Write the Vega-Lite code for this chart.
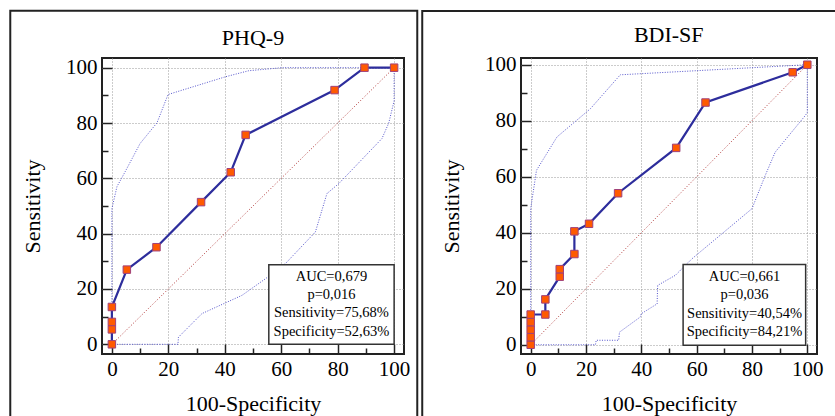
{
  "$schema": "https://vega.github.io/schema/vega-lite/v6.json",
  "padding": {"left": 8, "top": 8, "right": 0, "bottom": 0},
  "background": "white",
  "columns": 2,
  "align": "none",
  "spacing": 0,
  "datasets": {
    "curves": [
      {"p": "PHQ-9", "s": "ref", "i": 0, "x": 0, "y": 0},
      {"p": "PHQ-9", "s": "ref", "i": 1, "x": 100, "y": 100},
      {"p": "PHQ-9", "s": "roc", "i": 0, "x": 0, "y": 0},
      {"p": "PHQ-9", "s": "roc", "i": 1, "x": 0, "y": 5.4},
      {"p": "PHQ-9", "s": "roc", "i": 2, "x": 0, "y": 8.1},
      {"p": "PHQ-9", "s": "roc", "i": 3, "x": 0, "y": 13.5},
      {"p": "PHQ-9", "s": "roc", "i": 4, "x": 5.3, "y": 27.0},
      {"p": "PHQ-9", "s": "roc", "i": 5, "x": 15.8, "y": 35.1},
      {"p": "PHQ-9", "s": "roc", "i": 6, "x": 31.6, "y": 51.4},
      {"p": "PHQ-9", "s": "roc", "i": 7, "x": 42.1, "y": 62.2},
      {"p": "PHQ-9", "s": "roc", "i": 8, "x": 47.4, "y": 75.7},
      {"p": "PHQ-9", "s": "roc", "i": 9, "x": 78.9, "y": 91.9},
      {"p": "PHQ-9", "s": "roc", "i": 10, "x": 89.5, "y": 100},
      {"p": "PHQ-9", "s": "roc", "i": 11, "x": 100, "y": 100},
      {"p": "PHQ-9", "s": "upper", "i": 0, "x": 0, "y": 0},
      {"p": "PHQ-9", "s": "upper", "i": 1, "x": 0, "y": 49},
      {"p": "PHQ-9", "s": "upper", "i": 2, "x": 1.8, "y": 57},
      {"p": "PHQ-9", "s": "upper", "i": 3, "x": 4.7, "y": 62.4},
      {"p": "PHQ-9", "s": "upper", "i": 4, "x": 10, "y": 72.6},
      {"p": "PHQ-9", "s": "upper", "i": 5, "x": 16, "y": 80.1},
      {"p": "PHQ-9", "s": "upper", "i": 6, "x": 19.9, "y": 90.3},
      {"p": "PHQ-9", "s": "upper", "i": 7, "x": 40.2, "y": 96.7},
      {"p": "PHQ-9", "s": "upper", "i": 8, "x": 48.5, "y": 98.9},
      {"p": "PHQ-9", "s": "upper", "i": 9, "x": 60.3, "y": 100},
      {"p": "PHQ-9", "s": "upper", "i": 10, "x": 100, "y": 100},
      {"p": "PHQ-9", "s": "lower", "i": 0, "x": 0, "y": 0},
      {"p": "PHQ-9", "s": "lower", "i": 1, "x": 23.4, "y": 0},
      {"p": "PHQ-9", "s": "lower", "i": 2, "x": 23.6, "y": 2.6},
      {"p": "PHQ-9", "s": "lower", "i": 3, "x": 31.9, "y": 11.1},
      {"p": "PHQ-9", "s": "lower", "i": 4, "x": 46.1, "y": 17.7},
      {"p": "PHQ-9", "s": "lower", "i": 5, "x": 54.4, "y": 23.7},
      {"p": "PHQ-9", "s": "lower", "i": 6, "x": 61.5, "y": 29.2},
      {"p": "PHQ-9", "s": "lower", "i": 7, "x": 72.1, "y": 40.6},
      {"p": "PHQ-9", "s": "lower", "i": 8, "x": 76.2, "y": 54.5},
      {"p": "PHQ-9", "s": "lower", "i": 9, "x": 80.4, "y": 58.1},
      {"p": "PHQ-9", "s": "lower", "i": 10, "x": 95.7, "y": 74.4},
      {"p": "PHQ-9", "s": "lower", "i": 11, "x": 98.1, "y": 80},
      {"p": "PHQ-9", "s": "lower", "i": 12, "x": 100, "y": 88},
      {"p": "PHQ-9", "s": "lower", "i": 13, "x": 100, "y": 100},
      {"p": "BDI-SF", "s": "ref", "i": 0, "x": 0, "y": 0},
      {"p": "BDI-SF", "s": "ref", "i": 1, "x": 100, "y": 100},
      {"p": "BDI-SF", "s": "roc", "i": 0, "x": 0, "y": 0},
      {"p": "BDI-SF", "s": "roc", "i": 1, "x": 0, "y": 2.7},
      {"p": "BDI-SF", "s": "roc", "i": 2, "x": 0, "y": 5.4},
      {"p": "BDI-SF", "s": "roc", "i": 3, "x": 0, "y": 8.1},
      {"p": "BDI-SF", "s": "roc", "i": 4, "x": 0, "y": 10.8},
      {"p": "BDI-SF", "s": "roc", "i": 5, "x": 5.3, "y": 10.8},
      {"p": "BDI-SF", "s": "roc", "i": 6, "x": 5.3, "y": 16.2},
      {"p": "BDI-SF", "s": "roc", "i": 7, "x": 10.5, "y": 24.3},
      {"p": "BDI-SF", "s": "roc", "i": 8, "x": 10.5, "y": 27.0},
      {"p": "BDI-SF", "s": "roc", "i": 9, "x": 15.8, "y": 32.4},
      {"p": "BDI-SF", "s": "roc", "i": 10, "x": 15.8, "y": 40.5},
      {"p": "BDI-SF", "s": "roc", "i": 11, "x": 21.1, "y": 43.2},
      {"p": "BDI-SF", "s": "roc", "i": 12, "x": 31.6, "y": 54.1},
      {"p": "BDI-SF", "s": "roc", "i": 13, "x": 52.6, "y": 70.3},
      {"p": "BDI-SF", "s": "roc", "i": 14, "x": 63.2, "y": 86.5},
      {"p": "BDI-SF", "s": "roc", "i": 15, "x": 94.7, "y": 97.3},
      {"p": "BDI-SF", "s": "roc", "i": 16, "x": 100, "y": 100},
      {"p": "BDI-SF", "s": "upper", "i": 0, "x": 0, "y": 0},
      {"p": "BDI-SF", "s": "upper", "i": 1, "x": 0, "y": 48.6},
      {"p": "BDI-SF", "s": "upper", "i": 2, "x": 2.1, "y": 62.3},
      {"p": "BDI-SF", "s": "upper", "i": 3, "x": 9.5, "y": 74.2},
      {"p": "BDI-SF", "s": "upper", "i": 4, "x": 21.6, "y": 84.3},
      {"p": "BDI-SF", "s": "upper", "i": 5, "x": 32.4, "y": 96.4},
      {"p": "BDI-SF", "s": "upper", "i": 6, "x": 100, "y": 100},
      {"p": "BDI-SF", "s": "lower", "i": 0, "x": 0, "y": 0},
      {"p": "BDI-SF", "s": "lower", "i": 1, "x": 23.4, "y": 0},
      {"p": "BDI-SF", "s": "lower", "i": 2, "x": 23.7, "y": 1.6},
      {"p": "BDI-SF", "s": "lower", "i": 3, "x": 31.8, "y": 1.6},
      {"p": "BDI-SF", "s": "lower", "i": 4, "x": 32.1, "y": 4.5},
      {"p": "BDI-SF", "s": "lower", "i": 5, "x": 39.6, "y": 9.9},
      {"p": "BDI-SF", "s": "lower", "i": 6, "x": 40.0, "y": 11.1},
      {"p": "BDI-SF", "s": "lower", "i": 7, "x": 45.7, "y": 14.6},
      {"p": "BDI-SF", "s": "lower", "i": 8, "x": 45.9, "y": 21.2},
      {"p": "BDI-SF", "s": "lower", "i": 9, "x": 52.3, "y": 24.8},
      {"p": "BDI-SF", "s": "lower", "i": 10, "x": 58.3, "y": 30.7},
      {"p": "BDI-SF", "s": "lower", "i": 11, "x": 80.0, "y": 48.6},
      {"p": "BDI-SF", "s": "lower", "i": 12, "x": 84.8, "y": 60.5},
      {"p": "BDI-SF", "s": "lower", "i": 13, "x": 88.4, "y": 68.8},
      {"p": "BDI-SF", "s": "lower", "i": 14, "x": 99.3, "y": 81.9},
      {"p": "BDI-SF", "s": "lower", "i": 15, "x": 100, "y": 83},
      {"p": "BDI-SF", "s": "lower", "i": 16, "x": 100, "y": 100}
    ],
    "notes": [
      {"p": "PHQ-9", "title": "PHQ-9", "t": "AUC=0,679\np=0,016\nSensitivity=75,68%\nSpecificity=52,63%"},
      {"p": "BDI-SF", "title": "BDI-SF", "t": "AUC=0,661\np=0,036\nSensitivity=40,54%\nSpecificity=84,21%"}
    ]
  },
  "concat": [
    {
      "width": 302,
      "height": 296,
      "layer": [
        {
          "data": {"values": [{}]},
          "mark": {"type": "rect", "filled": false, "stroke": "#222", "strokeWidth": 2, "clip": false},
          "encoding": {
            "x": {"datum": -36.0, "type": "quantitative", "scale": {"domain": [-3.5, 103.5], "nice": false, "zero": false}, "title": "100-Specificity"},
            "x2": {"datum": 108.2},
            "y": {"datum": 120.6, "type": "quantitative", "scale": {"domain": [-3.5, 103.5], "nice": false, "zero": false}, "title": "Sensitivity"},
            "y2": {"datum": -35}
          }
        },
        {
          "data": {"name": "notes"},
          "transform": [{"filter": "datum.p === 'PHQ-9'"}],
          "mark": {"type": "text", "font": "Liberation Serif", "fontSize": 22, "align": "center", "baseline": "alphabetic", "color": "#000", "clip": false},
          "encoding": {"x": {"datum": 50, "type": "quantitative"}, "y": {"datum": 108.2, "type": "quantitative"}, "text": {"field": "title"}}
        },
        {
          "data": {"name": "curves"},
          "transform": [{"filter": "datum.p === 'PHQ-9' && datum.s === 'ref'"}],
          "mark": {"type": "line", "stroke": "#b03535", "strokeWidth": 1, "strokeDash": [1, 2]},
          "encoding": {"x": {"field": "x", "type": "quantitative", "title": "100-Specificity"}, "y": {"field": "y", "type": "quantitative", "title": "Sensitivity"}, "order": {"field": "i"}}
        },
        {
          "data": {"name": "curves"},
          "transform": [{"filter": "datum.p === 'PHQ-9' && (datum.s === 'upper' || datum.s === 'lower')"}],
          "mark": {"type": "line", "stroke": "#5555cc", "strokeWidth": 1, "strokeDash": [1, 1.5]},
          "encoding": {"x": {"field": "x", "type": "quantitative", "title": "100-Specificity"}, "y": {"field": "y", "type": "quantitative", "title": "Sensitivity"}, "detail": {"field": "s"}, "order": {"field": "i"}}
        },
        {
          "data": {"name": "curves"},
          "transform": [{"filter": "datum.p === 'PHQ-9' && datum.s === 'roc'"}],
          "mark": {"type": "line", "stroke": "#2d2d9c", "strokeWidth": 2.2},
          "encoding": {"x": {"field": "x", "type": "quantitative", "title": "100-Specificity"}, "y": {"field": "y", "type": "quantitative", "title": "Sensitivity"}, "order": {"field": "i"}}
        },
        {
          "data": {"name": "curves"},
          "transform": [{"filter": "datum.p === 'PHQ-9' && datum.s === 'roc'"}],
          "mark": {"type": "square", "size": 56, "filled": true, "fill": "#ff5a00", "stroke": "#a0407a", "strokeWidth": 1, "opacity": 1},
          "encoding": {"x": {"field": "x", "type": "quantitative", "title": "100-Specificity"}, "y": {"field": "y", "type": "quantitative", "title": "Sensitivity"}}
        },
        {
          "data": {"values": [{}]},
          "mark": {"type": "rect", "fill": "white", "stroke": "#333", "strokeWidth": 1.5},
          "encoding": {"x": {"datum": 55.6, "type": "quantitative"}, "x2": {"datum": 100}, "y": {"datum": 28.8, "type": "quantitative"}, "y2": {"datum": 0}}
        },
        {
          "data": {"name": "notes"},
          "transform": [{"filter": "datum.p === 'PHQ-9'"}],
          "mark": {"type": "text", "lineBreak": "\n", "lineHeight": 18.3, "font": "Liberation Serif", "fontSize": 14.5, "align": "center", "baseline": "middle", "color": "#000"},
          "encoding": {"x": {"datum": 77.8, "type": "quantitative"}, "y": {"datum": 24.4, "type": "quantitative"}, "text": {"field": "t"}}
        }
      ]
    },
    {
      "width": 296,
      "height": 296,
      "layer": [
        {
          "data": {"values": [{}]},
          "mark": {"type": "rect", "filled": false, "stroke": "#222", "strokeWidth": 2, "clip": false},
          "encoding": {
            "x": {"datum": -39.2, "type": "quantitative", "scale": {"domain": [-3.5, 103.5], "nice": false, "zero": false}, "title": "100-Specificity"},
            "x2": {"datum": 112},
            "y": {"datum": 119.2, "type": "quantitative", "scale": {"domain": [-3.3, 102.4], "nice": false, "zero": false}, "title": "Sensitivity"},
            "y2": {"datum": -35}
          }
        },
        {
          "data": {"name": "notes"},
          "transform": [{"filter": "datum.p === 'BDI-SF'"}],
          "mark": {"type": "text", "font": "Liberation Serif", "fontSize": 22, "align": "center", "baseline": "alphabetic", "color": "#000", "clip": false},
          "encoding": {"x": {"datum": 49.9, "type": "quantitative"}, "y": {"datum": 108.1, "type": "quantitative"}, "text": {"field": "title"}}
        },
        {
          "data": {"name": "curves"},
          "transform": [{"filter": "datum.p === 'BDI-SF' && datum.s === 'ref'"}],
          "mark": {"type": "line", "stroke": "#b03535", "strokeWidth": 1, "strokeDash": [1, 2]},
          "encoding": {"x": {"field": "x", "type": "quantitative", "title": "100-Specificity"}, "y": {"field": "y", "type": "quantitative", "title": "Sensitivity"}, "order": {"field": "i"}}
        },
        {
          "data": {"name": "curves"},
          "transform": [{"filter": "datum.p === 'BDI-SF' && (datum.s === 'upper' || datum.s === 'lower')"}],
          "mark": {"type": "line", "stroke": "#5555cc", "strokeWidth": 1, "strokeDash": [1, 1.5]},
          "encoding": {"x": {"field": "x", "type": "quantitative", "title": "100-Specificity"}, "y": {"field": "y", "type": "quantitative", "title": "Sensitivity"}, "detail": {"field": "s"}, "order": {"field": "i"}}
        },
        {
          "data": {"name": "curves"},
          "transform": [{"filter": "datum.p === 'BDI-SF' && datum.s === 'roc'"}],
          "mark": {"type": "line", "stroke": "#2d2d9c", "strokeWidth": 2.2},
          "encoding": {"x": {"field": "x", "type": "quantitative", "title": "100-Specificity"}, "y": {"field": "y", "type": "quantitative", "title": "Sensitivity"}, "order": {"field": "i"}}
        },
        {
          "data": {"name": "curves"},
          "transform": [{"filter": "datum.p === 'BDI-SF' && datum.s === 'roc'"}],
          "mark": {"type": "square", "size": 56, "filled": true, "fill": "#ff5a00", "stroke": "#a0407a", "strokeWidth": 1, "opacity": 1},
          "encoding": {"x": {"field": "x", "type": "quantitative", "title": "100-Specificity"}, "y": {"field": "y", "type": "quantitative", "title": "Sensitivity"}}
        },
        {
          "data": {"values": [{}]},
          "mark": {"type": "rect", "fill": "white", "stroke": "#333", "strokeWidth": 1.5},
          "encoding": {"x": {"datum": 55.1, "type": "quantitative"}, "x2": {"datum": 99.4}, "y": {"datum": 28.7, "type": "quantitative"}, "y2": {"datum": -0.2}}
        },
        {
          "data": {"name": "notes"},
          "transform": [{"filter": "datum.p === 'BDI-SF'"}],
          "mark": {"type": "text", "lineBreak": "\n", "lineHeight": 18.3, "font": "Liberation Serif", "fontSize": 14.5, "align": "center", "baseline": "middle", "color": "#000"},
          "encoding": {"x": {"datum": 77.3, "type": "quantitative"}, "y": {"datum": 24.2, "type": "quantitative"}, "text": {"field": "t"}}
        }
      ]
    }
  ],
  "config": {
    "view": {"stroke": "#222", "strokeWidth": 2},
    "axis": {
      "values": [0, 5, 10, 15, 20, 25, 30, 35, 40, 45, 50, 55, 60, 65, 70, 75, 80, 85, 90, 95, 100],
      "labelExpr": "datum.value % 20 === 0 ? datum.label : ''",
      "tickSize": {"condition": {"test": "datum.value % 20 === 0", "value": -10}, "value": -6},
      "tickColor": "#222",
      "tickWidth": 1.5,
      "grid": true,
      "gridColor": "#999",
      "gridDash": [1, 2],
      "gridWidth": 1,
      "gridOpacity": {"condition": {"test": "datum.value % 20 === 0", "value": 1}, "value": 0},
      "domain": false,
      "labelFont": "Liberation Serif",
      "labelFontSize": 21,
      "labelColor": "#000",
      "labelOverlap": false,
      "labelFlush": false,
      "titleFont": "Liberation Serif",
      "titleFontSize": 22,
      "titleFontWeight": "normal",
      "titleColor": "#000"
    },
    "axisX": {"labelPadding": 14, "titlePadding": 10},
    "axisY": {"labelPadding": 15, "titlePadding": 21}
  }
}
